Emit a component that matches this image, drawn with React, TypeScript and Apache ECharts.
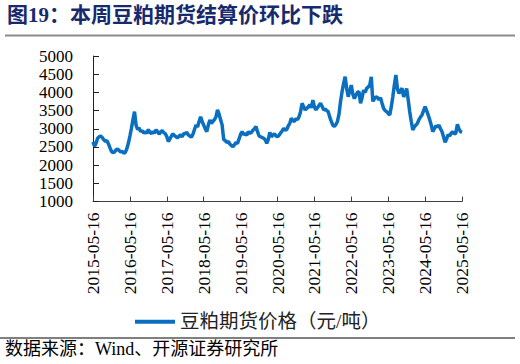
import React, { useEffect, useRef } from "react";
import * as echarts from "echarts";

// Semi-monthly settlement prices (yuan/ton), each block starts at a May-16 label
const seg2015 = [2640, 2520, 2600, 2740, 2780, 2800, 2760, 2700, 2650, 2680, 2590, 2480, 2380, 2340, 2360, 2420, 2440, 2400, 2360, 2380, 2330, 2350, 2450, 2600];
const seg2016 = [2800, 3010, 3250, 3470, 3100, 2980, 3020, 2920, 2950, 2880, 2920, 2870, 2980, 2900, 2870, 2920, 2880, 2970, 2920, 2850, 2910, 2950, 2890, 2870];
const seg2017 = [2780, 2650, 2720, 2800, 2860, 2810, 2780, 2750, 2800, 2830, 2780, 2870, 2860, 2900, 2830, 2800, 2770, 2850, 2980, 3100, 3050, 3200, 3330, 3200];
const seg2018 = [3100, 3000, 2920, 3100, 3240, 3150, 3200, 3250, 3330, 3520, 3400, 3250, 3100, 2700, 2680, 2620, 2650, 2580, 2540, 2510, 2560, 2620, 2600, 2720];
const seg2019 = [2850, 2920, 2840, 2870, 2820, 2920, 2880, 2900, 2960, 3000, 3060, 2920, 2800, 2780, 2760, 2740, 2700, 2600, 2700, 2900, 2780, 2830, 2860, 2800];
const seg2020 = [2780, 2820, 2880, 2940, 3010, 2960, 2980, 3080, 3150, 3290, 3220, 3200, 3280, 3250, 3330, 3470, 3700, 3600, 3520, 3560, 3600, 3660, 3580, 3790];
const seg2021 = [3600, 3520, 3580, 3640, 3700, 3620, 3520, 3540, 3500, 3470, 3320, 3200, 3100, 3060, 3120, 3200, 3400, 3750, 4020, 4250, 4430, 4100, 3880, 4050];
const seg2022 = [4200, 3950, 3830, 3920, 4000, 4020, 3700, 3850, 4060, 4000, 4110, 4150, 4200, 4430, 3750, 3820, 3880, 3860, 3800, 3850, 3700, 3560, 3500, 3470];
const seg2023 = [3420, 3380, 3600, 3880, 4200, 4480, 4100, 3970, 4050, 4110, 3880, 3950, 4110, 3800, 3470, 3200, 2970, 3050, 3100, 3150, 3250, 3320, 3380, 3500];
const seg2024 = [3610, 3500, 3380, 3250, 3100, 2920, 3000, 3080, 3050, 3100, 3000, 2920, 2780, 2630, 2720, 2840, 2800, 2880, 2920, 2860, 2880, 3120, 3000, 2920];
const seg2025 = [2900];

const xTickLabels = [
  "2015-05-16", "2016-05-16", "2017-05-16", "2018-05-16", "2019-05-16", "2020-05-16",
  "2021-05-16", "2022-05-16", "2023-05-16", "2024-05-16", "2025-05-16",
];
const yTicks = { min: 1000, max: 5000, interval: 500 };
const seriesName = "豆粕期货价格（元/吨）";
const titleText = "图19：本周豆粕期货结算价环比下跌";
const sourceText = "数据来源：Wind、开源证券研究所";

const values = [
  ...seg2015, ...seg2016, ...seg2017, ...seg2018, ...seg2019, ...seg2020,
  ...seg2021, ...seg2022, ...seg2023, ...seg2024, ...seg2025,
];

function buildDates(): string[] {
  const out: string[] = [];
  let y = 2015, m = 5, d = 16;
  while (out.length < values.length) {
    out.push(`${y}-${String(m).padStart(2, "0")}-${String(d).padStart(2, "0")}`);
    if (d === 1) d = 16;
    else { d = 1; m += 1; if (m > 12) { m = 1; y += 1; } }
  }
  return out;
}
const dates = buildDates();

const SERIF = '"Liberation Serif", "Noto Sans CJK SC", serif';

export default function App() {
  const ref = useRef<HTMLDivElement>(null);
  useEffect(() => {
    if (!ref.current) return;
    const chart = echarts.init(ref.current, undefined, { renderer: "svg" });
    chart.setOption({
      animation: false,
      backgroundColor: "#ffffff",
      grid: { left: 93, top: 56, width: 369, height: 145.5, containLabel: false },
      xAxis: {
        type: "category",
        data: dates,
        boundaryGap: false,
        axisLine: { lineStyle: { color: "#404040", width: 1 } },
        axisTick: {
          show: true,
          inside: true,
          length: 5,
          interval: (_i: number, v: string) => xTickLabels.includes(v),
          lineStyle: { color: "#404040" },
        },
        axisLabel: {
          interval: (_i: number, v: string) => xTickLabels.includes(v),
          rotate: 90,
          margin: 11,
          color: "#000",
          fontFamily: SERIF,
          fontSize: 17.5,
        },
        splitLine: { show: false },
      },
      yAxis: {
        type: "value",
        min: yTicks.min,
        max: yTicks.max,
        interval: yTicks.interval,
        axisLine: { show: true, lineStyle: { color: "#202020", width: 1 } },
        axisTick: { show: true, inside: true, length: 6, lineStyle: { color: "#202020" } },
        axisLabel: {
          margin: 20,
          color: "#000",
          fontFamily: SERIF,
          fontSize: 17,
          formatter: (v: number) => String(v),
        },
        splitLine: { show: false },
      },
      legend: {
        data: [seriesName],
        left: 130,
        top: 307,
        icon: "rect",
        itemWidth: 40,
        itemHeight: 4,
        textStyle: { color: "#222", fontFamily: SERIF, fontSize: 19.5 },
      },
      series: [
        {
          name: seriesName,
          type: "line",
          data: values,
          showSymbol: false,
          lineStyle: { color: "#0A6FC0", width: 3.5 },
          itemStyle: { color: "#0A6FC0" },
        },
      ],
      graphic: [
        {
          type: "text",
          left: 7,
          top: 4,
          style: { text: titleText, font: `bold 21px ${SERIF}`, fill: "#172A6E" },
        },
        {
          type: "line",
          shape: { x1: 5, y1: 35.5, x2: 515, y2: 35.5 },
          style: { stroke: "#8a8a8a", lineWidth: 2 },
        },
        {
          type: "line",
          shape: { x1: 0, y1: 338, x2: 515, y2: 338 },
          style: { stroke: "#000", lineWidth: 1 },
        },
        {
          type: "text",
          left: 5,
          top: 340,
          style: { text: sourceText, font: `18px ${SERIF}`, fill: "#000" },
        },
      ],
    });
    return () => chart.dispose();
  }, []);
  return (
    <div
      ref={ref}
      style={{ position: "fixed", left: 0, top: 0, width: 520, height: 364, background: "#fff" }}
    />
  );
}
